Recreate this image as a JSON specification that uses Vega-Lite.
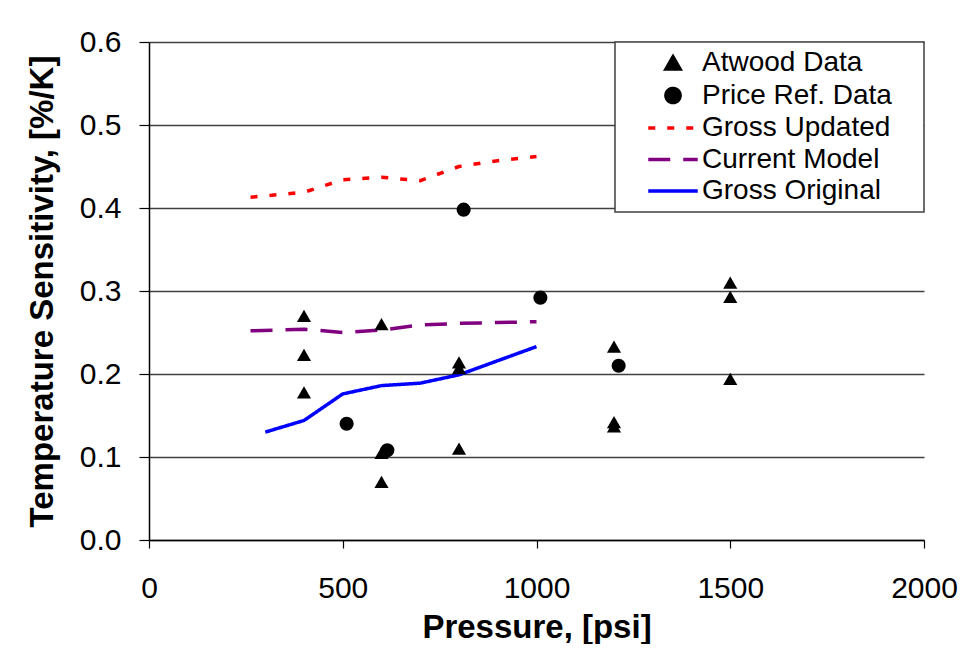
{
  "$schema": "https://vega.github.io/schema/vega-lite/v6.json",
  "width": 775,
  "height": 498,
  "padding": {"left": 26, "top": 27, "right": 0, "bottom": 0},
  "background": "white",
  "config": {
    "view": {"stroke": null},
    "font": "Liberation Sans",
    "legend": {"strokeWidth": 1.5}
  },
  "data": {
    "values": [
      {"series": "Atwood Data", "kind": "point", "p": 400, "s": 0.270},
      {"series": "Atwood Data", "kind": "point", "p": 400, "s": 0.223},
      {"series": "Atwood Data", "kind": "point", "p": 400, "s": 0.178},
      {"series": "Atwood Data", "kind": "point", "p": 600, "s": 0.260},
      {"series": "Atwood Data", "kind": "point", "p": 600, "s": 0.105},
      {"series": "Atwood Data", "kind": "point", "p": 600, "s": 0.070},
      {"series": "Atwood Data", "kind": "point", "p": 800, "s": 0.214},
      {"series": "Atwood Data", "kind": "point", "p": 800, "s": 0.207},
      {"series": "Atwood Data", "kind": "point", "p": 800, "s": 0.110},
      {"series": "Atwood Data", "kind": "point", "p": 1200, "s": 0.233},
      {"series": "Atwood Data", "kind": "point", "p": 1200, "s": 0.142},
      {"series": "Atwood Data", "kind": "point", "p": 1200, "s": 0.137},
      {"series": "Atwood Data", "kind": "point", "p": 1500, "s": 0.310},
      {"series": "Atwood Data", "kind": "point", "p": 1500, "s": 0.293},
      {"series": "Atwood Data", "kind": "point", "p": 1500, "s": 0.194},
      {"series": "Price Ref. Data", "kind": "point", "p": 510, "s": 0.140},
      {"series": "Price Ref. Data", "kind": "point", "p": 615, "s": 0.108},
      {"series": "Price Ref. Data", "kind": "point", "p": 812, "s": 0.398},
      {"series": "Price Ref. Data", "kind": "point", "p": 1010, "s": 0.292},
      {"series": "Price Ref. Data", "kind": "point", "p": 1212, "s": 0.210},
      {"series": "Gross Updated", "kind": "line", "p": 262, "s": 0.413},
      {"series": "Gross Updated", "kind": "line", "p": 400, "s": 0.419},
      {"series": "Gross Updated", "kind": "line", "p": 500, "s": 0.434},
      {"series": "Gross Updated", "kind": "line", "p": 600, "s": 0.437},
      {"series": "Gross Updated", "kind": "line", "p": 700, "s": 0.433},
      {"series": "Gross Updated", "kind": "line", "p": 800, "s": 0.450},
      {"series": "Gross Updated", "kind": "line", "p": 900, "s": 0.457},
      {"series": "Gross Updated", "kind": "line", "p": 1000, "s": 0.462},
      {"series": "Current Model", "kind": "line", "p": 262, "s": 0.252},
      {"series": "Current Model", "kind": "line", "p": 400, "s": 0.254},
      {"series": "Current Model", "kind": "line", "p": 500, "s": 0.250},
      {"series": "Current Model", "kind": "line", "p": 600, "s": 0.253},
      {"series": "Current Model", "kind": "line", "p": 700, "s": 0.259},
      {"series": "Current Model", "kind": "line", "p": 800, "s": 0.261},
      {"series": "Current Model", "kind": "line", "p": 900, "s": 0.262},
      {"series": "Current Model", "kind": "line", "p": 1000, "s": 0.263},
      {"series": "Gross Original", "kind": "line", "p": 300, "s": 0.130},
      {"series": "Gross Original", "kind": "line", "p": 400, "s": 0.144},
      {"series": "Gross Original", "kind": "line", "p": 500, "s": 0.176},
      {"series": "Gross Original", "kind": "line", "p": 600, "s": 0.186},
      {"series": "Gross Original", "kind": "line", "p": 700, "s": 0.189},
      {"series": "Gross Original", "kind": "line", "p": 800, "s": 0.199},
      {"series": "Gross Original", "kind": "line", "p": 900, "s": 0.216},
      {"series": "Gross Original", "kind": "line", "p": 1000, "s": 0.233}
    ]
  },
  "encoding": {
    "x": {
      "field": "p", "type": "quantitative",
      "scale": {"domain": [0, 2000], "nice": false},
      "axis": {
        "title": "Pressure, [psi]",
        "values": [0, 500, 1000, 1500, 2000],
        "format": "d",
        "grid": false,
        "labelFlush": false,
        "domainColor": "black", "domainWidth": 1.5,
        "tickColor": "black", "tickWidth": 1.2, "tickSize": 8,
        "labelFontSize": 30, "labelColor": "black", "labelPadding": 25,
        "titleFontSize": 33, "titleFontWeight": "bold", "titleColor": "black", "titlePadding": 8
      }
    },
    "y": {
      "field": "s", "type": "quantitative",
      "scale": {"domain": [0, 0.6], "nice": false},
      "axis": {
        "title": "Temperature Sensitivity, [%/K]",
        "values": [0, 0.1, 0.2, 0.3, 0.4, 0.5, 0.6],
        "format": ".1f",
        "grid": true, "gridColor": "#404040", "gridWidth": 1.5,
        "domainColor": "black", "domainWidth": 1.5,
        "tickColor": "black", "tickWidth": 1.2, "tickSize": 10,
        "labelFontSize": 30, "labelColor": "black", "labelPadding": 18,
        "titleFontSize": 33, "titleFontWeight": "bold", "titleColor": "black", "titlePadding": 20
      }
    },
    "color": {
      "field": "series", "type": "nominal",
      "scale": {
        "domain": ["Atwood Data", "Price Ref. Data", "Gross Updated", "Current Model", "Gross Original"],
        "range": ["black", "black", "#ff0000", "#800080", "#0000ff"]
      },
      "legend": {
        "title": "\u00a0",
        "titleOrient": "right",
        "titlePadding": 25,
        "titleFontSize": 28,
        "orient": "top-right",
        "offset": 0,
        "strokeColor": "#404040",
        "fillColor": "white",
        "padding": 7,
        "symbolOffset": 37,
        "symbolSize": 200,
        "labelFontSize": 28,
        "labelColor": "black",
        "labelOffset": 15,
        "labelLimit": 400,
        "rowPadding": 3.5,
        "symbolStrokeWidth": 3.5
      }
    }
  },
  "layer": [
    {
      "transform": [{"filter": "datum.kind == 'line'"}],
      "mark": {"type": "line", "strokeWidth": 3.5},
      "encoding": {
        "strokeDash": {
          "field": "series", "type": "nominal",
          "scale": {
            "domain": ["Atwood Data", "Price Ref. Data", "Gross Updated", "Current Model", "Gross Original"],
            "range": [[1, 0], [1, 0], [7, 12], [22, 13], [1, 0]]
          }
        }
      }
    },
    {
      "transform": [{"filter": "datum.kind == 'point'"}],
      "mark": {"type": "point", "filled": true, "opacity": 1, "size": 200},
      "encoding": {
        "shape": {
          "field": "series", "type": "nominal",
          "scale": {
            "domain": ["Atwood Data", "Price Ref. Data", "Gross Updated", "Current Model", "Gross Original"],
            "range": ["triangle-up", "circle", "M-3.5,0H3.5", "M-3.5,0H3.5", "M-3.5,0H3.5"]
          }
        }
      }
    }
  ]
}
